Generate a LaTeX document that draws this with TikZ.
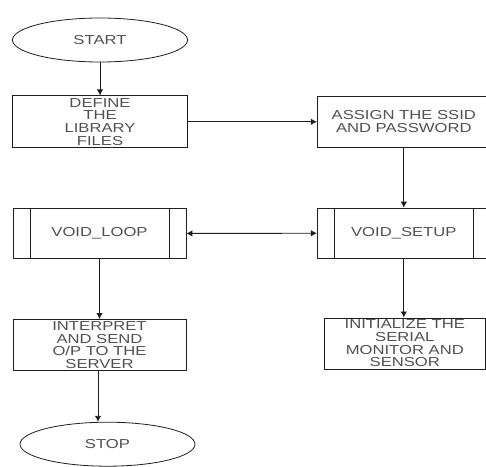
\documentclass[tikz,border=0pt]{standalone}
\usepackage{fontspec}
\usepackage{xcolor}
\usetikzlibrary{arrows.meta,positioning,shapes.geometric}
\newfontfamily\flowfont[FakeStretch=1.28]{Liberation Sans}
\newcommand\flowtext{\flowfont\fontsize{13pt}{12.6pt}\selectfont}
\definecolor{ink}{HTML}{1E1E1E}
\definecolor{label}{HTML}{505050}
\tikzset{
  >={Latex[length=6pt,width=6.5pt]},
  flow/.style={->,draw=ink,line width=.9pt},
  twoway/.style={<->,draw=ink,line width=.9pt},
  terminal/.style={ellipse,draw=ink,line width=.8pt,minimum width=175pt,minimum height=44pt,
                   inner sep=0pt,align=center,font=\flowtext,text=label},
  procbox/.style={rectangle,draw=ink,line width=.8pt,minimum height=51pt,inner sep=0pt,
                  align=center,font=\flowtext,text=label},
  subproc/.style={procbox,minimum height=50pt,path picture={
      \draw[ink,line width=.8pt]
        ([xshift=17pt]path picture bounding box.north west)--([xshift=17pt]path picture bounding box.south west)
        ([xshift=-17pt]path picture bounding box.north east)--([xshift=-17pt]path picture bounding box.south east);}},
}
\begin{document}
\begin{tikzpicture}[x=1pt,y=1pt]
  \clip (0,0) rectangle (486,466);
  \node[terminal] (start) at (100,426) {START};
  \node[procbox,minimum width=175pt,minimum height=52pt,below=33pt of start] (define) {DEFINE\\THE\\LIBRARY\\FILES};
  \node[procbox,minimum width=173pt,right=129pt of define] (assign) {ASSIGN THE SSID\\AND PASSWORD};
  \node[subproc,minimum width=173pt,below=60pt of assign] (setup) {VOID\_SETUP};
  \node[subproc,minimum width=173pt,below=60pt of define,xshift=-.5pt] (loop) {VOID\_LOOP};
  \node[procbox,minimum width=173pt,below=60pt of loop] (interp) {INTERPRET\\AND SEND\\O/P TO THE\\SERVER};
  \node[procbox,minimum width=161pt,below=59pt of setup,xshift=1pt] (init) {INITIALIZE THE\\SERIAL\\MONITOR AND\\SENSOR};
  \node[terminal,below=51pt of interp,xshift=8pt] (stop) {STOP};
  \draw[flow] (start)--(define);
  \draw[flow] (define)--(assign);
  \draw[flow] (assign)--(setup);
  \draw[twoway] (loop)--(setup);
  \draw[flow] (setup.south)--(setup.south |- init.north);
  \draw[flow] (loop)--(interp);
  \draw[flow] ([xshift=-1.5pt]interp.south)--([xshift=-1.5pt]interp.south |- stop.north);
\end{tikzpicture}
\end{document}
